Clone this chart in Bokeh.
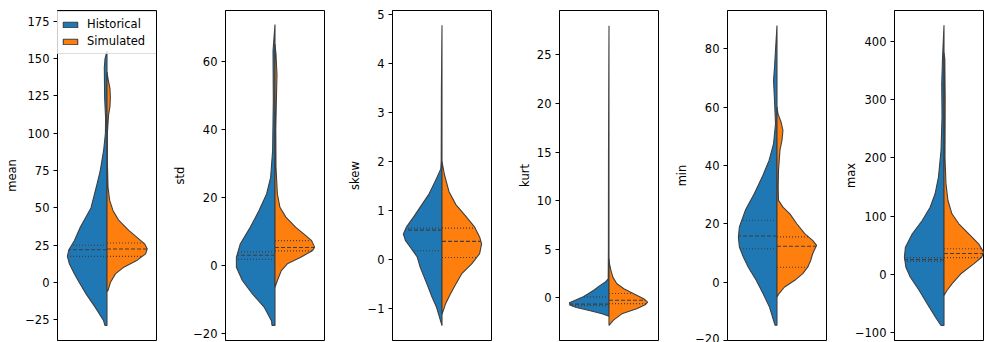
import numpy as np
from bokeh.plotting import figure
from bokeh.layouts import row
from bokeh.models import Range1d, FixedTicker, Legend, LegendItem, CustomJSTickFormatter
from bokeh.embed import file_html
from bokeh.resources import INLINE

# ---------------- data ----------------
STATS = ["mean", "std", "skew", "kurt", "min", "max"]
SERIES = ["Historical", "Simulated"]

# y-axis ticks
MEAN_TICKS = [-25, 0, 25, 50, 75, 100, 125, 150, 175]
STD_TICKS = [-20, 0, 20, 40, 60]
SKEW_TICKS = [-1, 0, 1, 2, 3, 4, 5]
KURT_TICKS = [0, 5, 10, 15, 20, 25]
MIN_TICKS = [-20, 0, 20, 40, 60, 80]
MAX_TICKS = [-100, 0, 100, 200, 300, 400]

# violin outlines: value levels (y) and half widths (w, category units)
MEAN_HIST_Y = [-28.8, -25.5, -16.5, -7.8, 0, 5.8, 12.5, 17.5, 22, 28, 37, 50, 64, 75, 88.5, 100, 110, 124, 144, 150, 155]
MEAN_HIST_W = [0.02, 0.035, 0.12, 0.21, 0.28, 0.33, 0.38, 0.40, 0.385, 0.33, 0.27, 0.162, 0.108, 0.068, 0.034, 0.016, 0.014, 0.024, 0.027, 0.02, 0.0]
MEAN_SIM_Y = [-6, -5.4, 0, 5.8, 10.3, 14.7, 19.2, 22.6, 25.9, 30.4, 34.9, 41.6, 48.3, 55, 64, 80, 100, 112, 118, 124, 130, 136, 141]
MEAN_SIM_W = [0.0, 0.01, 0.034, 0.085, 0.17, 0.30, 0.39, 0.406, 0.38, 0.30, 0.22, 0.12, 0.06, 0.027, 0.01, 0.004, 0.004, 0.015, 0.03, 0.034, 0.03, 0.012, 0.0]

STD_HIST_Y = [-17.6, -16.2, -12.2, -8.3, -4.4, -0.5, 2.4, 6.4, 11.2, 16.2, 21, 25.9, 33.8, 48.5, 63, 70.8]
STD_HIST_W = [0.03, 0.036, 0.11, 0.23, 0.33, 0.39, 0.39, 0.35, 0.25, 0.16, 0.085, 0.044, 0.024, 0.017, 0.02, 0.0]
STD_SIM_Y = [-6.4, -4.4, -1.5, 0.5, 2.4, 4.4, 5.4, 7.3, 9.3, 11.2, 14.2, 17.1, 21, 28.9, 40, 50, 56, 62, 65]
STD_SIM_W = [0.0, 0.024, 0.064, 0.125, 0.26, 0.38, 0.40, 0.37, 0.29, 0.21, 0.11, 0.05, 0.024, 0.01, 0.008, 0.015, 0.02, 0.01, 0.0]

SKEW_HIST_Y = [-1.35, -1.18, -0.97, -0.77, -0.56, -0.36, -0.16, 0.05, 0.25, 0.39, 0.52, 0.66, 0.86, 1.07, 1.34, 1.61, 1.85, 2.02, 3.5, 4.78]
SKEW_HIST_W = [0.0, 0.025, 0.056, 0.10, 0.14, 0.18, 0.22, 0.25, 0.32, 0.37, 0.39, 0.36, 0.29, 0.22, 0.13, 0.066, 0.012, 0.008, 0.006, 0.0]
SKEW_SIM_Y = [-1.12, -0.91, -0.7, -0.5, -0.29, -0.09, 0.12, 0.32, 0.46, 0.66, 0.86, 1.12, 1.39, 1.73, 2.0]
SKEW_SIM_W = [0.0, 0.035, 0.086, 0.14, 0.20, 0.30, 0.38, 0.40, 0.38, 0.33, 0.25, 0.14, 0.07, 0.025, 0.0]

KURT_HIST_Y = [-1.9, -1.65, -1.3, -1.0, -0.75, -0.5, -0.2, 0.1, 0.41, 0.8, 1.2, 1.6, 1.95, 5, 15, 28]
KURT_HIST_W = [0.0, 0.07, 0.2, 0.33, 0.395, 0.40, 0.33, 0.26, 0.21, 0.15, 0.10, 0.04, 0.008, 0.006, 0.005, 0.0]
KURT_SIM_Y = [-2.85, -2.3, -1.65, -1.13, -0.69, -0.45, -0.1, 0.41, 0.93, 1.44, 2.1, 2.8, 3.5, 4.0]
KURT_SIM_W = [0.0, 0.045, 0.13, 0.28, 0.37, 0.39, 0.35, 0.25, 0.15, 0.08, 0.04, 0.02, 0.005, 0.0]

MIN_HIST_Y = [-14.8, -13.1, -8.6, -4, 0.6, 5.1, 8.6, 12, 15.4, 18.9, 24.6, 30.3, 36, 41.7, 47.4, 54.3, 62.3, 69.1, 73.7, 79.6, 88]
MIN_HIST_W = [0.02, 0.035, 0.076, 0.14, 0.21, 0.29, 0.34, 0.38, 0.39, 0.38, 0.32, 0.23, 0.15, 0.08, 0.035, 0.015, 0.025, 0.035, 0.025, 0.015, 0.0]
MIN_SIM_Y = [-5.1, -4, -1.7, 0.6, 2.9, 5.1, 7.4, 9.7, 12.6, 14.3, 16.6, 20, 23.4, 25.7, 28, 32.6, 38.3, 45.2, 48.6, 52, 55, 57.7, 60]
MIN_SIM_W = [0.0, 0.02, 0.076, 0.18, 0.26, 0.31, 0.34, 0.36, 0.40, 0.36, 0.28, 0.20, 0.13, 0.06, 0.015, 0.012, 0.015, 0.03, 0.05, 0.06, 0.04, 0.01, 0.0]

MAX_HIST_Y = [-87.4, -73.2, -50.2, -27.4, -4.6, 12.5, 29.6, 46.8, 69.8, 92.5, 115.3, 138.3, 166.8, 212.5, 270, 327, 370, 427]
MAX_HIST_W = [0.03, 0.086, 0.17, 0.25, 0.34, 0.385, 0.40, 0.39, 0.32, 0.22, 0.14, 0.09, 0.056, 0.03, 0.02, 0.023, 0.015, 0.0]
MAX_SIM_Y = [-36, -27.4, -16, 1.2, 18.3, 29.6, 38.2, 52.6, 69.8, 86.9, 104, 126.8, 155.4, 200, 300, 370, 380]
MAX_SIM_W = [0.0, 0.03, 0.08, 0.17, 0.30, 0.38, 0.40, 0.35, 0.25, 0.15, 0.08, 0.04, 0.02, 0.01, 0.012, 0.008, 0.0]

# quartiles [Q1, median, Q3]
MEAN_HIST_Q = [17.5, 22.0, 25.0]
MEAN_SIM_Q = [17.5, 22.5, 26.5]
STD_HIST_Q = [1.8, 3.0, 4.0]
STD_SIM_Q = [4.3, 5.3, 7.3]
SKEW_HIST_Q = [0.18, 0.60, 0.64]
SKEW_SIM_Q = [0.04, 0.37, 0.64]
KURT_HIST_Q = [-0.8, -0.65, 0.1]
KURT_SIM_Q = [-0.6, -0.25, 0.45]
MIN_HIST_Q = [11.4, 15.8, 21.2]
MIN_SIM_Q = [5.1, 12.3, 15.5]
MAX_HIST_Q = [22.5, 25.5, 29.0]
MAX_SIM_Q = [29.0, 36.0, 44.0]

# ---------------- style / layout ----------------
HIST_COLOR = "#1f77b4"
SIM_COLOR = "#ff7f0e"
EDGE = "#3f3f3f"
FONT = "DejaVu Sans"
FS = "11.5px"

panels = [
    dict(name="mean", ticks=MEAN_TICKS, yr=(-38.87, 182.3), hy=MEAN_HIST_Y, hw=MEAN_HIST_W, sy=MEAN_SIM_Y, sw=MEAN_SIM_W, hq=MEAN_HIST_Q, sq=MEAN_SIM_Q),
    dict(name="std", ticks=STD_TICKS, yr=(-22.03, 74.9), hy=STD_HIST_Y, hw=STD_HIST_W, sy=STD_SIM_Y, sw=STD_SIM_W, hq=STD_HIST_Q, sq=STD_SIM_Q),
    dict(name="skew", ticks=SKEW_TICKS, yr=(-1.653, 5.082), hy=SKEW_HIST_Y, hw=SKEW_HIST_W, sy=SKEW_SIM_Y, sw=SKEW_SIM_W, hq=SKEW_HIST_Q, sq=SKEW_SIM_Q),
    dict(name="kurt", ticks=KURT_TICKS, yr=(-4.393, 29.56), hy=KURT_HIST_Y, hw=KURT_HIST_W, sy=KURT_SIM_Y, sw=KURT_SIM_W, hq=KURT_HIST_Q, sq=KURT_SIM_Q),
    dict(name="min", ticks=MIN_TICKS, yr=(-20.05, 93.14), hy=MIN_HIST_Y, hw=MIN_HIST_W, sy=MIN_SIM_Y, sw=MIN_SIM_W, hq=MIN_HIST_Q, sq=MIN_SIM_Q),
    dict(name="max", ticks=MAX_TICKS, yr=(-113.1, 452.4), hy=MAX_HIST_Y, hw=MAX_HIST_W, sy=MAX_SIM_Y, sw=MAX_SIM_W, hq=MAX_HIST_Q, sq=MAX_SIM_Q),
]
WIDTHS = [168, 167, 167, 168, 167, 147]
LEFT_BORDERS = [57, 57, 57, 57, 57, 57]
FRAME_W = [99, 99, 99, 99, 99, 90]
XRANGES = [(-0.5, 0.5)] * 5 + [(-0.5, 0.409)]
STANDOFFS = [3, 3, 3, 2, 3, -6]

fmt = CustomJSTickFormatter(code="return tick < 0 ? '\\u2212' + String(Math.abs(tick)) : String(tick);")

figs = []
for i, pn in enumerate(panels):
    p = figure(width=WIDTHS[i], height=342, output_backend="svg", toolbar_location=None,
               x_range=Range1d(*XRANGES[i]), y_range=Range1d(*pn["yr"]), x_axis_location=None,
               min_border_left=LEFT_BORDERS[i], min_border_right=WIDTHS[i] - LEFT_BORDERS[i] - FRAME_W[i],
               min_border_top=10, min_border_bottom=2)
    p.grid.visible = False
    p.background_fill_color = "white"
    p.border_fill_color = "white"
    p.outline_line_color = "black"
    p.outline_line_width = 1
    p.outline_line_alpha = 1

    hy = np.array(pn["hy"], dtype=float)
    hw = np.array(pn["hw"], dtype=float)
    sy = np.array(pn["sy"], dtype=float)
    sw = np.array(pn["sw"], dtype=float)

    hx_poly = np.concatenate([-hw, [0.0, 0.0]])
    hy_poly = np.concatenate([hy, [hy[-1], hy[0]]])
    sx_poly = np.concatenate([sw, [0.0, 0.0]])
    sy_poly = np.concatenate([sy, [sy[-1], sy[0]]])

    rh = p.patch(hx_poly, hy_poly, fill_color=HIST_COLOR, line_color=EDGE, line_width=1.1)
    rs = p.patch(sx_poly, sy_poly, fill_color=SIM_COLOR, line_color=EDGE, line_width=1.1)

    for qs, ys, ws, sign in [(pn["hq"], hy, hw, -1), (pn["sq"], sy, sw, 1)]:
        qs = np.array(qs, dtype=float)
        wq = np.interp(qs, ys, ws) * sign
        dashes = ["1 2", "4 2", "1 2"]
        for k in range(3):
            p.segment(x0=[0.0], y0=[qs[k]], x1=[wq[k]], y1=[qs[k]],
                      line_color=EDGE, line_width=1.1, line_dash=dashes[k])

    ax = p.yaxis[0]
    ax.ticker = FixedTicker(ticks=pn["ticks"], minor_ticks=[])
    ax.formatter = fmt
    ax.axis_label = pn["name"]
    ax.axis_label_text_font = FONT
    ax.axis_label_text_font_size = FS
    ax.axis_label_text_font_style = "normal"
    ax.axis_label_text_color = "black"
    ax.axis_label_standoff = STANDOFFS[i]
    ax.major_label_text_font = FONT
    ax.major_label_text_font_size = FS
    ax.major_label_text_color = "black"
    ax.major_label_standoff = 4
    ax.major_tick_out = 4
    ax.major_tick_in = 0
    ax.minor_tick_out = 0
    ax.minor_tick_in = 0
    ax.major_tick_line_color = "black"
    ax.axis_line_color = "black"

    if i == 0:
        legend = Legend(items=[LegendItem(label=SERIES[0], renderers=[rh]),
                               LegendItem(label=SERIES[1], renderers=[rs])],
                        location=(-2, 286), margin=0, padding=5, spacing=3,
                        glyph_width=18, glyph_height=7, label_height=14, label_width=64,
                        label_standoff=8, label_text_font=FONT, label_text_font_size=FS,
                        label_text_color="black", border_line_color="#bbbbbb", border_line_width=1,
                        background_fill_color="white", background_fill_alpha=0.8)
        p.add_layout(legend)
    figs.append(p)

layout = row(*figs)
open("out.html", "w").write(file_html(layout, INLINE))
